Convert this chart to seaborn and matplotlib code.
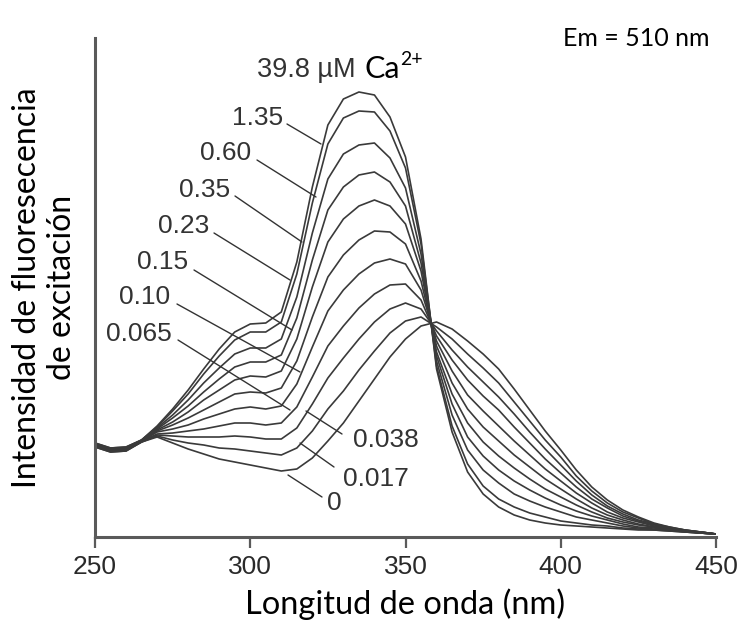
import matplotlib
matplotlib.use("Agg")
import matplotlib.pyplot as plt
import seaborn as sns
import pandas as pd

# ---------------- data ----------------
wavelength = list(range(250, 455, 5))
ca_labels = ["0", "0.017", "0.038", "0.065", "0.10", "0.15", "0.23", "0.35", "0.60", "1.35", "39.8"]

ca_0    = [90,85,86,95,100,94,88,83,78,75,72,69,66,68,79,96,114,136,158,180,198,211,215,208,196,183,168,148,127,106,87,67,50,37,27,20,14,10,7,5,3]
ca_0017 = [90,85,86,95,101,97,94,92,89,88,86,84,82,89,106,128,146,167,186,204,216,220,210,198,183,169,154,135,116,97,80,61,46,34,25,19,13,10,7,5,3]
ca_0038 = [91,86,87,95,102,101,100,100,100,101,100,98,98,109,133,159,179,198,215,228,234,228,206,187,170,155,140,123,105,88,72,56,42,31,23,17,13,9,7,5,3]
ca_0065 = [91,86,87,96,103,104,106,108,111,114,114,112,114,130,160,191,211,229,243,252,253,237,201,177,157,141,127,110,94,78,64,50,38,29,21,16,12,9,6,5,3]
ca_010  = [92,87,88,96,105,108,112,118,123,128,130,128,131,153,190,226,247,263,274,278,273,247,196,166,142,126,111,96,82,68,56,44,34,25,19,15,11,8,6,5,3]
ca_015  = [92,87,88,96,106,112,119,127,135,143,145,144,149,176,220,260,282,297,306,305,293,256,191,154,128,110,96,82,70,58,48,38,29,22,17,13,10,8,6,4,3]
ca_023  = [93,88,89,96,107,115,125,137,147,157,161,160,166,198,250,295,318,331,337,331,313,266,185,143,114,95,81,69,58,48,40,32,25,19,15,12,10,8,6,4,3]
ca_035  = [93,88,89,96,108,119,131,145,158,170,175,175,182,219,277,327,350,362,365,355,331,274,181,133,100,81,67,56,47,39,32,26,21,17,13,10,9,7,6,4,3]
ca_060  = [93,88,89,97,109,122,137,154,169,183,189,189,198,240,304,358,383,392,394,379,349,283,176,122,87,67,54,43,36,30,25,20,17,14,11,9,8,7,5,4,3]
ca_135  = [94,89,90,97,110,126,143,163,181,197,205,205,215,263,334,393,419,426,425,406,369,293,171,111,73,51,38,30,24,20,16,14,12,11,9,8,7,6,5,4,3]
ca_398  = [94,89,90,97,111,128,147,168,188,205,213,214,225,275,350,412,438,445,442,420,380,298,168,105,65,43,30,22,17,14,12,11,10,9,8,7,7,6,5,4,3]

series = [ca_0, ca_0017, ca_0038, ca_0065, ca_010, ca_015, ca_023, ca_035, ca_060, ca_135, ca_398]
xticks = [250, 300, 350, 400, 450]

# ---------------- long-form table ----------------
rows = []
for lab, vals in zip(ca_labels, series):
    for w, v in zip(wavelength, vals):
        rows.append({"nm": w, "I": v, "Ca": lab})
df = pd.DataFrame(rows)

# ---------------- figure ----------------
sns.set_style("white")
plt.rcParams["font.family"] = ["Liberation Sans", "DejaVu Sans"]

W, H = 740, 626
fig = plt.figure(figsize=(W / 100, H / 100), dpi=100)
ax = fig.add_axes([95 / W, 89 / H, 621 / W, 499 / H])

line_col = "#3a3a3a"
sns.lineplot(data=df, x="nm", y="I", hue="Ca", palette={l: line_col for l in ca_labels},
             linewidth=1.2, legend=False, ax=ax, sort=True)
for ln in ax.lines:
    ln.set_solid_joinstyle("round")

ax.set_xlim(250, 450)
ax.set_ylim(0, 499)
for s in ["top", "right"]:
    ax.spines[s].set_visible(False)
for s in ["left", "bottom"]:
    ax.spines[s].set_color("#5a5a5a")
    ax.spines[s].set_linewidth(2.2)

ax.set_xticks(xticks)
ax.set_xticklabels([str(t) for t in xticks])
ax.set_yticks([])
ax.tick_params(axis="x", direction="out", length=8, width=1.6, color="#5a5a5a",
               labelsize=19, labelcolor="#2a2a2a", pad=5, bottom=True)

label_font = ["Lato", "DejaVu Sans"]
ax.set_xlabel("Longitud de onda (nm)", fontsize=23.5, family=label_font, color="black", labelpad=7)
ax.set_ylabel("Intensidad de fluoresecencia\nde excitación", fontsize=23, family=label_font,
              color="black", labelpad=13, linespacing=1.22)

# ---- annotations (positions in pixel-layout converted to data) ----
def px2data(px, py):
    return 250 + (px - 95) / 3.105, 537 - py

ann_font = ["Liberation Sans", "DejaVu Sans"]
ann_col = "#333333"
annots = [
    ("1.35",  (258, 118), (287, 124), (321, 144)),
    ("0.60",  (226, 153), (257, 160), (316, 197)),
    ("0.35",  (205, 190), (235, 196), (302, 242)),
    ("0.23",  (184, 226), (214, 233), (290, 280)),
    ("0.15",  (163, 262), (194, 270), (292, 330)),
    ("0.10",  (145, 297), (177, 304), (300, 372)),
    ("0.065", (139, 334), (178, 340), (290, 410)),
    ("0.038", (386, 440), (342, 434), (306, 411)),
    ("0.017", (376, 479), (334, 467), (300, 443)),
    ("0",     (334, 503), (322, 497), (288, 475)),
]
for txt, tpos, p0, p1 in annots:
    tx, ty = px2data(*tpos)
    ax.text(tx, ty, txt, fontsize=19, family=ann_font, color=ann_col, ha="center", va="center")
    x0, y0 = px2data(*p0)
    x1, y1 = px2data(*p1)
    ax.plot([x0, x1], [y0, y1], color=ann_col, lw=1.0)

tx, ty = px2data(257, 70)
ax.text(tx, ty, "39.8 µM", fontsize=19.5, family=ann_font, color=ann_col, ha="left", va="center")
tx, ty = px2data(364, 69)
ax.text(tx, ty, "Ca", fontsize=22, family=label_font, color="black", ha="left", va="center")
tx, ty = px2data(400, 59)
ax.text(tx, ty, "2+", fontsize=14, family=label_font, color="black", ha="left", va="center")

ax.text((563 - 95) / 621, (537 - 39) / 499, "Em = 510 nm", transform=ax.transAxes,
        fontsize=18, family=label_font, color="black", ha="left", va="center")

fig.savefig("out.png", dpi=100)
